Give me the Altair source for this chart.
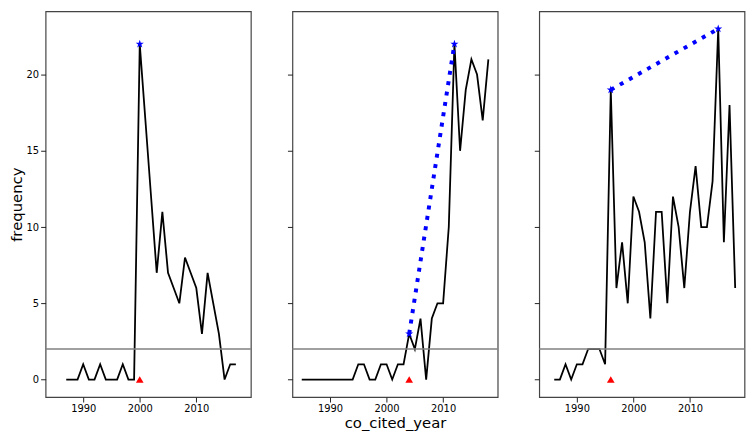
import math
import altair as alt
import pandas as pd

# ---- data ----
years1 = list(range(1987, 2018))
freq1 = [0, 0, 0, 1, 0, 0, 1, 0, 0, 0, 1, 0, 0, 22, 17, 12, 7, 11, 7, 6, 5, 8, 7, 6, 3, 7, 5, 3, 0, 1, 1]

years2 = list(range(1985, 2019))
freq2 = [0, 0, 0, 0, 0, 0, 0, 0, 0, 0, 1, 1, 0, 0, 1, 1, 0, 1, 1, 3, 2, 4, 0, 4, 5, 5, 10, 22, 15, 19, 21, 20, 17, 21]

years3 = list(range(1986, 2019))
freq3 = [0, 0, 1, 0, 1, 1, 2, 2, 2, 1, 19, 6, 9, 5, 12, 11, 9, 4, 11, 11, 5, 12, 10, 6, 11, 14, 10, 10, 13, 23, 9, 18, 6]

peak_years = [[2000], [2004, 2012], [1996, 2015]]
peak_freqs = [[22], [3, 22], [19, 23]]
start_years = [2000, 2004, 1996]
threshold = 2

x_ticks = [1990, 2000, 2010]
y_ticks = [0, 5, 10, 15, 20]

# five-point star symbol path in the [-1, 1] box
star_pts = []
for i in range(10):
    r = 1.0 if i % 2 == 0 else 0.4
    a = -math.pi / 2 + i * math.pi / 5
    star_pts.append(f"{r * math.cos(a):.3f},{r * math.sin(a):.3f}")
STAR = "M" + "L".join(star_pts) + "Z"

FONT = "DejaVu Sans"
XS = alt.Scale(domain=[1983.35, 2019.65], nice=False, zero=False)
YS = alt.Scale(domain=[-1.15, 24.15], nice=False, zero=False)


def panel(i, years, freqs, first, x_title):
    df = pd.DataFrame({"year": years, "freq": freqs})
    pk = pd.DataFrame({"year": peak_years[i], "freq": peak_freqs[i]})
    st = pd.DataFrame({"year": [start_years[i]], "freq": [0]})
    th = pd.DataFrame({"freq": [threshold]})

    xax = alt.Axis(values=x_ticks, format="d")
    if first:
        yax = alt.Axis(values=y_ticks, format="d")
    else:
        yax = alt.Axis(values=y_ticks, labels=False)

    x = alt.X("year:Q", scale=XS, axis=xax, title=x_title if x_title else None)
    y = alt.Y("freq:Q", scale=YS, axis=yax, title="frequency" if first else None)

    line = alt.Chart(df).mark_line(color="black", strokeWidth=1.8).encode(x=x, y=y)
    rule = alt.Chart(th).mark_rule(color="gray", strokeWidth=1.5).encode(y=alt.Y("freq:Q"))
    dots = alt.Chart(pk).mark_line(
        color="#0000ff", strokeWidth=4, strokeDash=[4, 6.6], strokeCap="butt"
    ).encode(x="year:Q", y="freq:Q")
    stars = alt.Chart(pk).mark_point(
        shape=STAR, filled=True, color="#0000ff", size=75, opacity=1
    ).encode(x="year:Q", y="freq:Q")
    tri = alt.Chart(st).mark_point(
        shape="triangle-up", filled=True, color="#ff0000", size=60, opacity=1
    ).encode(x="year:Q", y="freq:Q")

    return alt.layer(line, rule, dots, stars, tri).properties(width=207.5, height=390)


p1 = panel(0, years1, freq1, True, None)
p2 = panel(1, years2, freq2, False, "co_cited_year")
p3 = panel(2, years3, freq3, False, None)

chart = (
    alt.hconcat(p1, p2, p3, spacing=41.5, bounds="flush")
    .properties(padding={"left": 0, "top": 0, "right": 0, "bottom": 0})
    .configure_view(stroke="#444444", strokeWidth=1.2)
    .configure_axis(
        domain=False,
        grid=False,
        labelFont=FONT,
        labelFontSize=10,
        labelColor="black",
        labelPadding=2,
        tickColor="#222222",
        tickSize=5,
        titleFont=FONT,
        titleFontSize=15,
        titleFontWeight="normal",
        titleColor="black",
        titlePadding=2,
    )
)

chart.save("out.html", embed_options={"renderer": "svg", "actions": False})
